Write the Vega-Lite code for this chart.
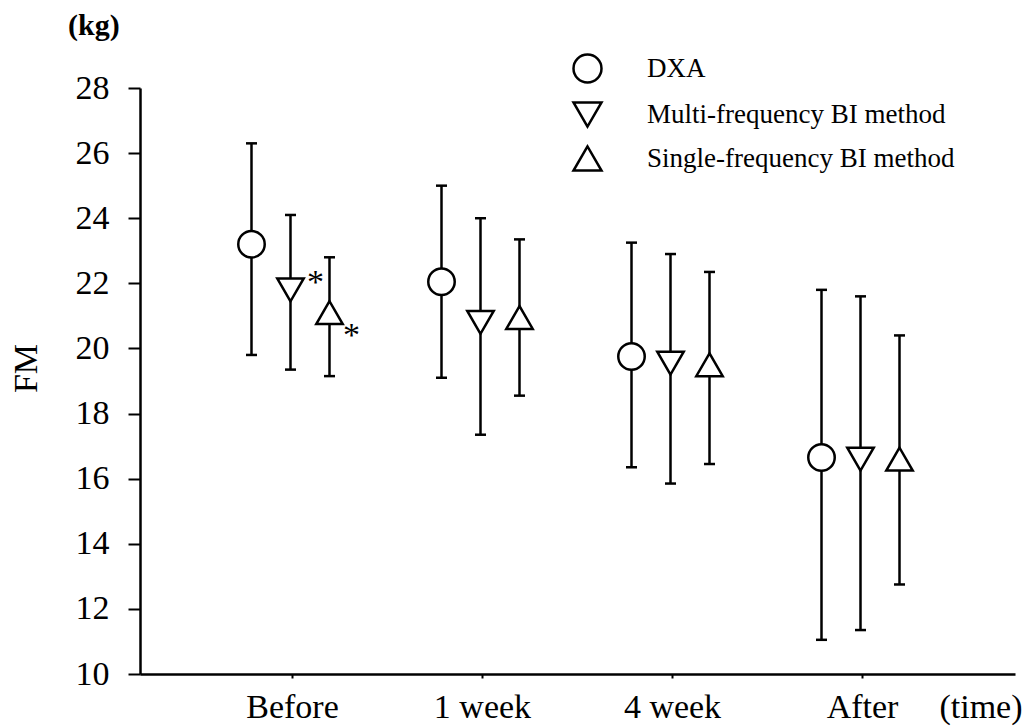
{
  "$schema": "https://vega.github.io/schema/vega-lite/v6.json",
  "width": 875,
  "height": 586,
  "autosize": {"type": "none"},
  "padding": {"left": 140, "top": 88, "right": 14, "bottom": 52},
  "background": "white",
  "config": {
    "view": {"stroke": null},
    "font": "Liberation Serif",
    "axis": {"labelFont": "Liberation Serif", "titleFont": "Liberation Serif", "labelColor": "black", "titleColor": "black", "domainColor": "black", "tickColor": "black", "grid": false},
    "legend": {"labelFont": "Liberation Serif", "labelColor": "black"}
  },
  "title": {"text": "(kg)", "anchor": "start", "frame": "group", "dx": -72, "offset": 12, "fontSize": 30, "fontWeight": "bold", "font": "Liberation Serif", "color": "black"},
  "data": {"values": [
    {"time": "Before", "method": "DXA", "mean": 23.2, "lo": 19.8, "hi": 26.3, "note": ""},
    {"time": "Before", "method": "Multi-frequency BI method", "mean": 21.8, "lo": 19.35, "hi": 24.1, "note": "*"},
    {"time": "Before", "method": "Single-frequency BI method", "mean": 21.1, "lo": 19.15, "hi": 22.8, "note": "*"},
    {"time": "1 week", "method": "DXA", "mean": 22.05, "lo": 19.1, "hi": 25.0, "note": ""},
    {"time": "1 week", "method": "Multi-frequency BI method", "mean": 20.8, "lo": 17.35, "hi": 24.0, "note": ""},
    {"time": "1 week", "method": "Single-frequency BI method", "mean": 20.95, "lo": 18.55, "hi": 23.35, "note": ""},
    {"time": "4 week", "method": "DXA", "mean": 19.75, "lo": 16.35, "hi": 23.25, "note": ""},
    {"time": "4 week", "method": "Multi-frequency BI method", "mean": 19.55, "lo": 15.85, "hi": 22.9, "note": ""},
    {"time": "4 week", "method": "Single-frequency BI method", "mean": 19.5, "lo": 16.45, "hi": 22.35, "note": ""},
    {"time": "After", "method": "DXA", "mean": 16.65, "lo": 11.05, "hi": 21.8, "note": ""},
    {"time": "After", "method": "Multi-frequency BI method", "mean": 16.6, "lo": 11.35, "hi": 21.6, "note": ""},
    {"time": "After", "method": "Single-frequency BI method", "mean": 16.6, "lo": 12.75, "hi": 20.4, "note": ""}
  ]},
  "encoding": {
    "x": {
      "field": "time", "type": "nominal",
      "sort": ["Before", "1 week", "4 week", "After"],
      "scale": {"paddingInner": 0, "paddingOuter": 0.3026},
      "axis": {
        "title": "(time)", "titleX": 882, "titleY": 43, "titleAlign": "right", "titleBaseline": "alphabetic",
        "titleFontSize": 34, "titleFontWeight": "normal", "labelFontSize": 34, "labelAngle": 0,
        "tickSize": 4, "tickWidth": 2, "labelPadding": 12, "domainWidth": 2.5
      }
    },
    "xOffset": {
      "field": "method", "type": "nominal",
      "sort": ["DXA", "Multi-frequency BI method", "Single-frequency BI method"],
      "scale": {"type": "point", "range": [54, 132], "padding": 0}
    }
  },
  "layer": [
    {
      "mark": {"type": "rule", "strokeWidth": 2.5, "color": "black"},
      "encoding": {
        "y": {"field": "lo", "type": "quantitative", "title": "FM",
          "scale": {"domain": [10, 28], "nice": false, "zero": false},
          "axis": {
            "values": [10, 12, 14, 16, 18, 20, 22, 24, 26, 28],
            "tickSize": 12,
            "tickWidth": 2, "domainWidth": 2.5, "labelPadding": 19, "labelFontSize": 34,
            "labelBaseline": "middle",
            "titleFontSize": 34, "titleFontWeight": "normal", "titleAngle": 270,
            "titleX": -97, "titleY": 280, "titleBaseline": "bottom", "titleAlign": "center"
          }
        },
        "y2": {"field": "hi"}
      }
    },
    {
      "mark": {"type": "tick", "thickness": 2.5, "size": 11, "color": "black", "opacity": 1},
      "encoding": {"y": {"field": "lo", "type": "quantitative", "title": "FM"}}
    },
    {
      "mark": {"type": "tick", "thickness": 2.5, "size": 11, "color": "black", "opacity": 1},
      "encoding": {"y": {"field": "hi", "type": "quantitative", "title": "FM"}}
    },
    {
      "mark": {"type": "point", "filled": true, "fill": "white", "stroke": "black", "strokeWidth": 2.5, "size": 700, "opacity": 1},
      "encoding": {
        "y": {"field": "mean", "type": "quantitative", "title": "FM"},
        "shape": {
          "field": "method", "type": "nominal",
          "sort": ["DXA", "Multi-frequency BI method", "Single-frequency BI method"],
          "scale": {"range": ["circle", "triangle-down", "triangle-up"]},
          "legend": {
            "orient": "none", "legendX": 432, "legendY": -35, "title": null,
            "labelFontSize": 27, "labelOffset": 44, "rowPadding": 9, "labelLimit": 0,
            "symbolSize": 784, "symbolStrokeWidth": 2.5
          }
        }
      }
    },
    {
      "transform": [{"filter": "datum.note === '*' && datum.method === 'Multi-frequency BI method'"}],
      "mark": {"type": "text", "dx": 25, "dy": 3, "fontSize": 34, "baseline": "alphabetic", "align": "center", "font": "Liberation Serif", "color": "black"},
      "encoding": {"y": {"field": "mean", "type": "quantitative", "title": "FM"}, "text": {"field": "note"}}
    },
    {
      "transform": [{"filter": "datum.note === '*' && datum.method === 'Single-frequency BI method'"}],
      "mark": {"type": "text", "dx": 22, "dy": 33, "fontSize": 34, "baseline": "alphabetic", "align": "center", "font": "Liberation Serif", "color": "black"},
      "encoding": {"y": {"field": "mean", "type": "quantitative", "title": "FM"}, "text": {"field": "note"}}
    }
  ]
}
